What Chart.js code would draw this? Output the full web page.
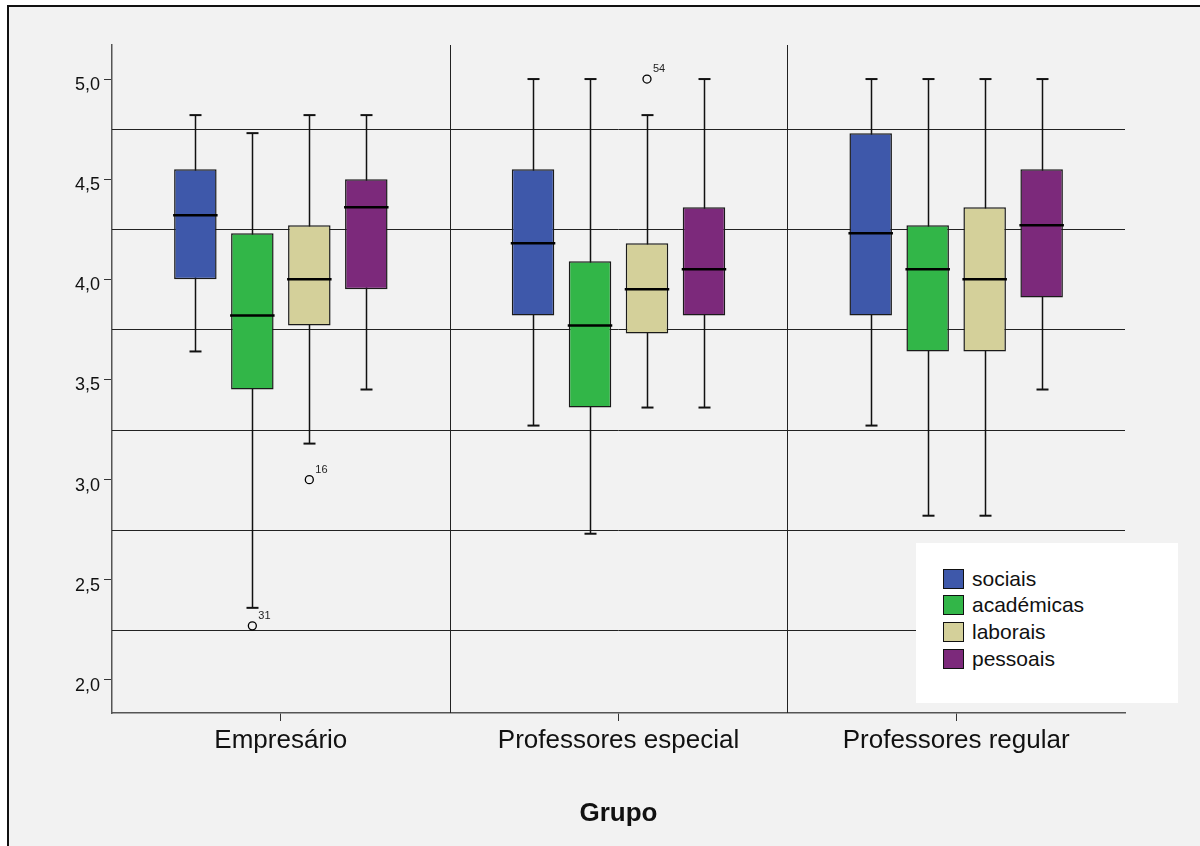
<!DOCTYPE html>
<html>
<head>
<meta charset="utf-8">
<script src="https://cdn.jsdelivr.net/npm/chart.js@4.4.0/dist/chart.umd.min.js"></script>
<style>
  html, body { margin: 0; padding: 0; background: #fff; }
  #frame { position: absolute; left: 7px; top: 5px; width: 1193px; height: 841px; box-sizing: border-box;
           border-left: 2px solid #111; border-top: 2px solid #111; background: #f2f2f2; }
  #chart { position: absolute; left: 0; top: 0; }
  #legend { position: absolute; left: 916px; top: 543px; width: 262px; height: 160px; background: #fff; }
  .item { position: absolute; left: 27px; display: flex; align-items: center; height: 21px;
          font: 21px 'Liberation Sans', Arial, sans-serif; color: #111; }
  .sw { width: 19px; height: 18px; border: 1.5px solid #111; margin-right: 8px; }
</style>
</head>
<body>
<div id="frame"></div>
<canvas id="chart" width="1200" height="846"></canvas>
<div id="legend"></div>
<script>
// Dados
const grupos = ['Empresário', 'Professores especial', 'Professores regular'];
const series = ['sociais', 'académicas', 'laborais', 'pessoais'];
const cores = ['#3e58aa', '#32b648', '#d4d09a', '#7c297b'];

// [mínimo, Q1, mediana, Q3, máximo] por grupo
const sociais    = [[3.64, 4.00, 4.32, 4.55, 4.82], [3.27, 3.82, 4.18, 4.55, 5.00], [3.27, 3.82, 4.23, 4.73, 5.00]];
const academicas = [[2.36, 3.45, 3.82, 4.23, 4.73], [2.73, 3.36, 3.77, 4.09, 5.00], [2.82, 3.64, 4.05, 4.27, 5.00]];
const laborais   = [[3.18, 3.77, 4.00, 4.27, 4.82], [3.36, 3.73, 3.95, 4.18, 4.82], [2.82, 3.64, 4.00, 4.36, 5.00]];
const pessoais   = [[3.45, 3.95, 4.36, 4.50, 4.82], [3.36, 3.82, 4.05, 4.36, 5.00], [3.45, 3.91, 4.27, 4.55, 5.00]];
const stats = [sociais, academicas, laborais, pessoais];

// casos atípicos: grupo, série, valor, nº do caso
const outliers = [
    { grupo: 0, serie: 1, valor: 2.27, caso: '31' },
    { grupo: 0, serie: 2, valor: 3.00, caso: '16' },
    { grupo: 1, serie: 2, valor: 5.00, caso: '54' }
];

const yTicks = [2.0, 2.5, 3.0, 3.5, 4.0, 4.5, 5.0];
const yGrid = [2.25, 2.75, 3.25, 3.75, 4.25, 4.75];

const FONT = "'Liberation Sans', Arial, sans-serif";

function line(ctx, x1, y1, x2, y2) {
    ctx.beginPath();
    ctx.moveTo(x1, y1);
    ctx.lineTo(x2, y2);
    ctx.stroke();
}

// Whiskers, medians and outliers on top of the floating bars
const boxPlugin = {
    id: 'boxplot',
    beforeDatasetsDraw(chart) {
        const { ctx, chartArea: a, scales: { x, y } } = chart;
        ctx.save();
        ctx.strokeStyle = '#222';
        ctx.lineWidth = 1;
        yGrid.forEach(v => {
            const py = Math.round(y.getPixelForValue(v)) + 0.5;
            line(ctx, a.left, py, a.right, py);
        });
        for (let i = 0; i < grupos.length - 1; i++) {
            const px = Math.round((x.getPixelForValue(i) + x.getPixelForValue(i + 1)) / 2) + 0.5;
            line(ctx, px, a.top, px, a.bottom);
        }

        ctx.strokeStyle = '#111';
        chart.data.datasets.forEach((ds, j) => {
            chart.getDatasetMeta(j).data.forEach((bar, i) => {
                const s = stats[j][i];
                const cx = Math.round(bar.x) + 0.5;
                ctx.lineWidth = 1.5;
                line(ctx, cx, y.getPixelForValue(s[4]), cx, y.getPixelForValue(s[0]));
                ctx.lineWidth = 2;
                [s[0], s[4]].forEach(v => {
                    const py = y.getPixelForValue(v);
                    line(ctx, cx - 6, py, cx + 6, py);
                });
            });
        });
        ctx.restore();
    },
    afterDatasetsDraw(chart) {
        const { ctx, scales: { y } } = chart;
        ctx.save();
        ctx.strokeStyle = '#000';
        ctx.lineWidth = 2.5;
        chart.data.datasets.forEach((ds, j) => {
            chart.getDatasetMeta(j).data.forEach((bar, i) => {
                const py = y.getPixelForValue(stats[j][i][2]);
                line(ctx, bar.x - bar.width / 2 - 1, py, bar.x + bar.width / 2 + 1, py);
            });
        });

        ctx.lineWidth = 1.3;
        ctx.fillStyle = '#222';
        ctx.font = '11px ' + FONT;
        ctx.textBaseline = 'alphabetic';
        outliers.forEach(o => {
            const bar = chart.getDatasetMeta(o.serie).data[o.grupo];
            const py = y.getPixelForValue(o.valor);
            ctx.beginPath();
            ctx.arc(bar.x, py, 4, 0, Math.PI * 2);
            ctx.stroke();
            ctx.fillText(o.caso, bar.x + 6, py - 7);
        });
        ctx.restore();
    }
};

new Chart(document.getElementById('chart'), {
    type: 'bar',
    data: {
        labels: grupos,
        datasets: series.map((nome, j) => ({
            label: nome,
            data: stats[j].map(s => [s[1], s[3]]),
            backgroundColor: cores[j],
            borderColor: '#1a1a1a',
            borderWidth: 1.5,
            borderSkipped: false,
            categoryPercentage: 0.675,
            barPercentage: 0.746
        }))
    },
    options: {
        responsive: false,
        devicePixelRatio: 1,
        animation: false,
        layout: { padding: { left: 0, top: 45, right: 75, bottom: 0 } },
        plugins: {
            legend: { display: false },
            tooltip: { enabled: false }
        },
        scales: {
            x: {
                offset: true,
                grid: { display: true, drawOnChartArea: false, offset: false, tickLength: 8, color: '#333' },
                border: { display: true, color: '#555', width: 1.5 },
                ticks: { color: '#111', padding: 4, font: { family: FONT, size: 26 } },
                title: {
                    display: true, text: 'Grupo', color: '#111',
                    font: { family: FONT, size: 26, weight: 'bold' },
                    padding: { top: 0, bottom: 17 }
                },
                afterFit(s) { s.height = 133; }
            },
            y: {
                min: 1.835,
                max: 5.17,
                afterBuildTicks(s) { s.ticks = yTicks.map(v => ({ value: v })); },
                grid: { display: true, drawOnChartArea: false, tickLength: 8, color: '#333' },
                border: { display: true, color: '#555', width: 1.5 },
                ticks: {
                    color: '#111', padding: 4, labelOffset: 6,
                    font: { family: FONT, size: 18 },
                    callback: v => v.toFixed(1).replace('.', ',')
                },
                afterFit(s) { s.width = 112; }
            }
        }
    },
    plugins: [boxPlugin]
});

// Legend box
const legend = document.getElementById('legend');
series.forEach((nome, j) => {
    const item = document.createElement('div');
    item.className = 'item';
    item.style.top = (25 + j * 26.7) + 'px';
    item.innerHTML = '<span class="sw" style="background:' + cores[j] + '"></span>' + nome;
    legend.appendChild(item);
});
</script>
</body>
</html>
